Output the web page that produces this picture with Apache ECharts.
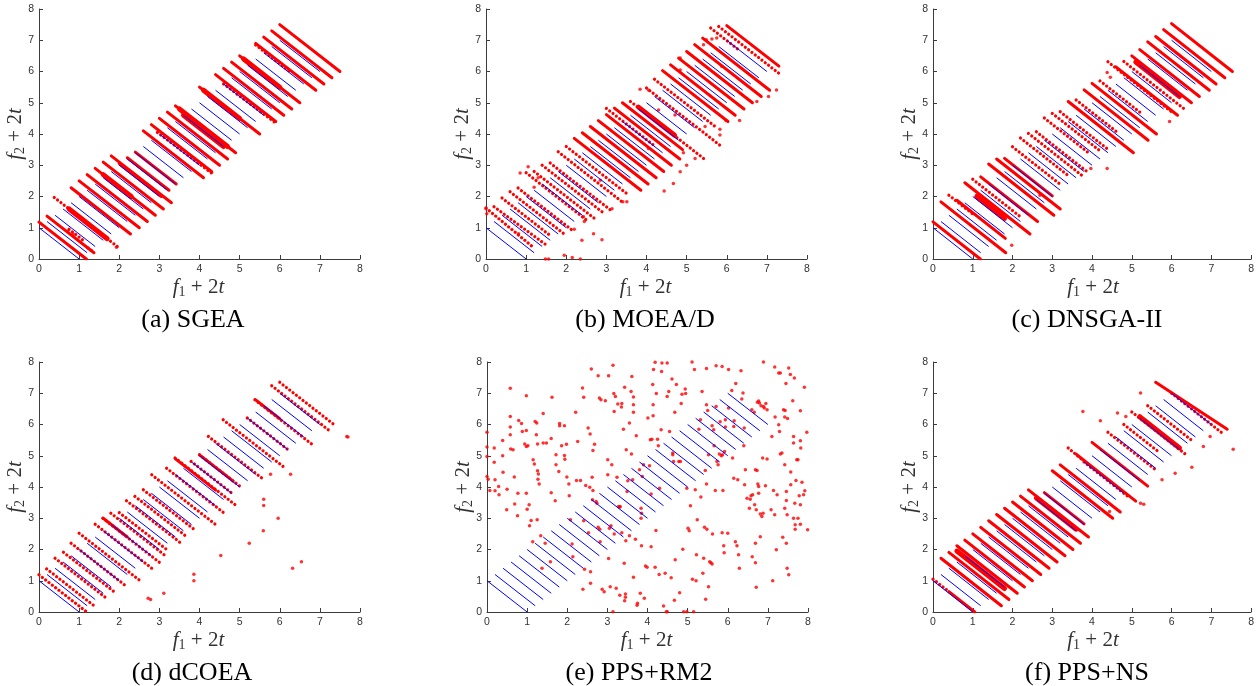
<!DOCTYPE html>
<html>
<head>
<meta charset="utf-8">
<script src="https://cdn.jsdelivr.net/npm/echarts@6/dist/echarts.min.js"></script>
<style>
html, body { margin: 0; padding: 0; background: #ffffff; }
#chart { width: 1257px; height: 686px; }
</style>
</head>
<body>
<div id="chart"></div>
<script>
// True Pareto fronts: for each t = 0, 0.1, ..., 3 the front runs from (2t, 2t+1) to (2t+1, 2t).
const frontStarts = [0, 0.2, 0.4, 0.6, 0.8, 1.0, 1.2, 1.4, 1.6, 1.8, 2.0, 2.2, 2.4, 2.6, 2.8, 3.0,
  3.2, 3.4, 3.6, 3.8, 4.0, 4.2, 4.4, 4.6, 4.8, 5.0, 5.2, 5.4, 5.6, 5.8, 6.0];
const tickValues = [0, 1, 2, 3, 4, 5, 6, 7, 8];
const captions = ['(a) SGEA', '(b) MOEA/D', '(c) DNSGA-II', '(d) dCOEA', '(e) PPS+RM2', '(f) PPS+NS'];

// Obtained solutions. Segments are [x1, y1, x2, y2]; points are [x, y].
// (a) SGEA
const sgeaLines = [
  [0, 1.18, 1.18, 0], [0.2, 1.37, 1.37, 0.2], [0.8, 2.28, 2.28, 0.8], [1.0, 2.5, 2.5, 1.0],
  [1.2, 2.7, 2.7, 1.2], [1.4, 2.9, 2.9, 1.4], [1.6, 3.1, 3.1, 1.6], [1.8, 3.3, 3.3, 1.8],
  [2.0, 3.05, 3.05, 2.0], [2.2, 3.24, 3.24, 2.2], [2.4, 3.42, 3.42, 2.4], [2.6, 4.1, 4.1, 2.6],
  [2.8, 4.3, 4.3, 2.8], [3.0, 4.5, 4.5, 3.0], [3.2, 4.7, 4.7, 3.2], [3.4, 4.9, 4.9, 3.4],
  [4.0, 5.5, 5.5, 4.0], [4.4, 5.9, 5.9, 4.4], [4.6, 6.1, 6.1, 4.6], [4.8, 6.3, 6.3, 4.8],
  [5.0, 6.5, 6.5, 5.0], [5.4, 6.9, 6.9, 5.4], [5.6, 7.1, 7.1, 5.6], [5.8, 7.3, 7.3, 5.8],
  [6.0, 7.5, 7.5, 6.0]
];
const sgeaDense = [
  [0.75, 1.6, 1.7, 0.65], [1.6, 2.7, 2.3, 2.0], [3.6, 4.6, 4.6, 3.6], [3.5, 4.8, 4.7, 3.6],
  [4.1, 5.4, 5.0, 4.5], [5.1, 6.4, 6.0, 5.5]
];
const sgeaSparse = [
  [0.38, 1.97, 0.75, 1.6], [1.7, 0.65, 1.95, 0.4], [0.75, 0.95, 1.1, 0.6], [2.95, 4.05, 4.3, 2.75],
  [4.6, 5.6, 5.9, 4.35], [5.4, 6.85, 6.3, 5.95]
];
const sgeaPoints = [[1.22, 0.35], [1.3, 0.27], [1.93, 0.38], [4.23, 2.84], [4.3, 2.78], [0.72, 0.9], [0.85, 0.8]];

// (b) MOEA/D
const moeadLines = [
  [2.2, 3.86, 3.86, 2.2], [2.4, 4.04, 4.04, 2.4], [2.6, 4.24, 4.24, 2.6],
  [2.8, 4.43, 4.43, 2.8], [3.0, 4.62, 4.62, 3.0], [3.2, 4.83, 4.83, 3.2], [3.4, 5.0, 4.9, 3.5],
  [4.4, 6.03, 6.03, 4.4], [4.6, 6.21, 6.21, 4.6], [4.8, 6.43, 6.43, 4.8], [5.0, 6.64, 6.64, 5.0],
  [5.2, 6.86, 6.86, 5.2], [5.4, 7.07, 7.07, 5.4], [6.0, 7.47, 7.3, 6.17]
];
const moeadDense = [[3.8, 4.86, 4.7, 3.96]];
const moeadSparse = [
  [0, 1.63, 1.2, 0.35], [0.2, 1.67, 1.5, 0.45], [0.4, 1.95, 1.6, 0.75], [0.6, 2.15, 2.0, 0.75],
  [0.8, 2.27, 2.2, 0.87], [1.0, 2.76, 2.5, 1.25], [1.2, 2.8, 2.7, 1.3], [1.4, 3.0, 2.9, 1.5],
  [1.6, 3.07, 3.1, 1.57], [1.8, 3.43, 3.39, 1.83], [2.0, 3.6, 3.5, 2.1], [3.0, 4.82, 4.2, 3.62],
  [3.6, 5.04, 5.5, 3.14], [4.0, 5.47, 5.9, 3.57], [4.2, 5.75, 5.75, 4.2], [5.6, 7.39, 6.3, 6.69],
  [5.8, 7.44, 7.3, 5.94]
];
const moeadPoints = [
  [0, 1.61], [0.02, 1.45], [2.39, 0.6], [2.89, 0.62], [2.35, 0], [1.48, 0], [1.56, 0], [3.14, 1.61],
  [3.41, 1.83], [3.51, 1.83], [4.44, 2.18], [4.67, 2.42], [4.84, 2.79], [5.0, 3.0], [5.21, 3.22],
  [4.92, 3.4], [5.46, 4.24], [5.83, 4.15], [5.83, 3.97], [5.98, 4.43], [6.32, 4.43], [6.75, 5.04],
  [7.04, 5.2], [7.24, 5.41], [4.84, 6.05], [4.84, 6.43], [5.49, 7.02], [5.42, 6.86], [5.63, 7.04],
  [5.75, 7.07], [5.88, 6.16], [3.84, 5.43], [4.05, 5.41], [4.3, 4.77], [4.71, 4.61], [4.05, 3.54],
  [2.85, 2.52], [2.43, 1.35], [2.68, 0.81], [0.81, 0.81], [1.2, 2.3], [1.3, 2.6], [0.85, 2.75],
  [1.05, 2.95], [2.2, 0.95], [2.45, 1.2], [1.95, 0.12], [2.15, 0.05]
];

// (c) DNSGA-II
const dnsgaLines = [
  [0, 1.19, 1.19, 0], [0.2, 1.83, 1.83, 0.2], [0.6, 1.88, 1.82, 0.66], [0.8, 2.44, 2.44, 0.8],
  [1.2, 2.63, 2.63, 1.2], [1.4, 3.04, 3.04, 1.4], [1.6, 3.2, 3.2, 1.6], [1.8, 3.22, 3.0, 2.02],
  [3.4, 5.04, 5.04, 3.4], [3.8, 5.41, 5.41, 3.8], [4.0, 5.62, 5.62, 4.0], [4.6, 6.15, 6.15, 4.6],
  [5.0, 6.5, 6.5, 5.0], [5.2, 6.7, 6.7, 5.2], [5.4, 6.95, 6.95, 5.4], [5.6, 7.12, 7.12, 5.6],
  [5.8, 7.34, 7.34, 5.8], [6.0, 7.53, 7.53, 6.0]
];
const dnsgaDense = [[1.1, 2.0, 1.8, 1.3], [5.1, 6.3, 6.2, 5.2]];
const dnsgaSparse = [
  [0.4, 2.04, 1.0, 1.44], [1.0, 2.55, 2.2, 1.35], [2.0, 3.59, 3.2, 2.39], [2.2, 3.87, 3.4, 2.67],
  [2.4, 4.02, 3.8, 2.62], [2.6, 4.07, 3.9, 2.77], [2.8, 4.51, 3.9, 3.41], [3.0, 4.66, 4.2, 3.46],
  [3.2, 4.71, 4.4, 3.51], [3.6, 5.09, 4.6, 4.09], [4.4, 6.31, 6.0, 4.71], [4.2, 5.7, 5.2, 4.7],
  [4.8, 6.32, 6.32, 4.8]
];
const dnsgaPoints = [
  [1.98, 0.44], [3.97, 2.9], [4.38, 2.9], [2.69, 2.04], [4.38, 5.97], [4.46, 5.82], [5.95, 4.4]
];

// (d) dCOEA
const dcoeaLines = [[4.0, 5.03, 4.84, 4.19], [5.4, 6.79, 6.0, 6.19], [1.6, 3.0, 2.2, 2.4], [3.4, 4.9, 4.4, 3.9]];
const dcoeaSparse = [
  [0, 1.19, 1.19, 0], [0.19, 1.38, 1.38, 0.19], [0.4, 1.72, 1.72, 0.4], [0.61, 1.91, 1.91, 0.61],
  [0.8, 2.2, 2.2, 0.8], [1.0, 2.52, 2.52, 1.0], [1.4, 2.81, 2.81, 1.4], [1.59, 3.0, 3.0, 1.59],
  [1.79, 3.16, 3.16, 1.79], [2.0, 3.18, 3.18, 2.0], [2.18, 3.56, 3.56, 2.18], [2.39, 3.7, 3.7, 2.39],
  [2.6, 3.91, 3.91, 2.6], [2.81, 4.39, 4.39, 2.81], [3.18, 4.6, 4.6, 3.18], [3.39, 4.93, 4.93, 3.39],
  [3.79, 4.82, 4.82, 3.79], [4.0, 5.03, 5.03, 4.0], [4.22, 5.62, 5.62, 4.22], [4.59, 6.15, 6.15, 4.59],
  [5.19, 6.21, 6.21, 5.19], [5.38, 6.79, 6.79, 5.38], [5.8, 7.24, 7.24, 5.8], [6.0, 7.35, 7.35, 6.0]
];
const dcoeaPoints = [
  [2.72, 0.44], [2.78, 0.4], [3.11, 0.6], [3.86, 1.21], [3.86, 1.0], [4.53, 1.81], [5.24, 2.2],
  [5.59, 2.6], [5.96, 3.0], [5.6, 3.61], [5.6, 3.41], [6.32, 1.4], [6.54, 1.61], [7.67, 5.62],
  [7.7, 5.6], [5.77, 4.41], [6.27, 4.41]
];

// (e) PPS+RM2
const rmPoints = [
  [0, 5.75], [0, 5.28], [0, 4.98], [0, 4.34], [0.03, 4.25], [0.07, 3.89], [0.18, 5.25], [0.18, 4.79],
  [0.2, 4.23], [0.2, 3.88], [0.29, 4.02], [0.3, 3.75], [0.39, 5.49], [0.39, 5.0], [0.4, 4.47], [0.49, 3.27],
  [0.5, 3.93], [0.58, 7.16], [0.58, 6.26], [0.58, 5.92], [0.58, 5.67], [0.59, 5.22], [0.65, 5.19], [0.68, 4.32],
  [0.69, 3.46], [0.76, 3.08], [0.77, 3.8], [0.79, 6.13], [0.86, 6.03], [0.88, 5.78], [0.94, 5.38], [0.98, 6.92],
  [0.98, 5.81], [0.98, 5.3], [0.98, 3.8], [1.0, 3.29], [1.02, 5.32], [1.05, 3.43], [1.06, 2.76], [1.1, 2.93],
  [1.14, 2.25], [1.15, 4.87], [1.18, 4.74], [1.2, 6.1], [1.24, 6.05], [1.23, 5.67], [1.26, 5.38], [1.26, 4.52],
  [1.27, 4.25], [1.28, 4.42], [1.25, 2.95], [1.3, 4.1], [1.34, 2.44], [1.37, 1.4], [1.4, 6.35], [1.4, 5.41],
  [1.45, 2.2], [1.48, 5.41], [1.58, 1.61], [1.6, 5.55], [1.6, 3.82], [1.62, 6.87], [1.7, 3.56], [1.72, 5.03],
  [1.72, 4.71], [1.79, 4.5], [1.81, 6.03], [1.81, 5.96], [1.86, 5.32], [1.93, 5.96], [1.93, 5.01], [1.94, 4.89],
  [1.98, 5.37], [1.99, 4.32], [2.04, 4.1], [2.05, 3.72], [2.08, 2.95], [2.12, 2.18], [2.14, 1.77], [2.21, 6.39],
  [2.23, 4.21], [2.26, 5.46], [2.33, 4.21], [2.38, 7.17], [2.41, 6.87], [2.39, 0.73], [2.41, 2.92], [2.43, 1.37],
  [2.46, 4.05], [2.52, 5.89], [2.53, 2.54], [2.56, 3.99], [2.57, 5.7], [2.58, 1.29], [2.58, 0.92], [2.6, 7.78],
  [2.62, 4.31], [2.63, 3.59], [2.64, 5.17], [2.64, 3.89], [2.68, 5.37], [2.72, 3.54], [2.74, 3.48], [2.77, 7.56],
  [2.77, 2.71], [2.8, 6.85], [2.81, 2.65], [2.82, 2.25], [2.84, 6.79], [2.87, 0.73], [2.92, 0.65], [2.95, 6.76],
  [3.01, 4.87], [3.01, 4.39], [3.03, 7.56], [3.03, 1.71], [3.05, 2.68], [3.07, 0.81], [3.09, 2.76], [3.11, 4.71],
  [3.14, 7.9], [3.14, 0.01], [3.16, 6.99], [3.17, 6.42], [3.17, 2.5], [3.2, 6.9], [3.22, 0.76], [3.24, 4.31],
  [3.26, 6.66], [3.28, 3.38], [3.3, 3.35], [3.31, 0.54], [3.32, 3.38], [3.35, 6.56], [3.36, 6.67], [3.36, 2.54],
  [3.4, 5.85], [3.42, 1.56], [3.43, 7.19], [3.43, 0.36], [3.45, 0.58], [3.45, 0.47], [3.46, 2.28], [3.47, 5.19],
  [3.49, 3.86], [3.51, 4.2], [3.55, 2.44], [3.55, 6.05], [3.59, 7.06], [3.6, 5.06], [3.61, 7.54], [3.63, 4.23],
  [3.65, 6.88], [3.65, 6.63], [3.65, 6.39], [3.65, 1.11], [3.7, 2.33], [3.72, 5.64], [3.74, 0.22], [3.75, 0.28],
  [3.8, 4.55], [3.82, 0.6], [3.84, 3.32], [3.84, 3.0], [3.85, 3.16], [3.85, 2.12], [3.87, 4.34], [3.9, 4.71],
  [3.92, 0.44], [3.95, 1.47], [3.99, 1.43], [4.01, 6.21], [4.05, 4.68], [4.07, 5.51], [4.09, 3.78], [4.09, 2.09],
  [4.11, 5.53], [4.13, 7.28], [4.14, 6.63], [4.14, 6.28], [4.15, 7.76], [4.19, 7.99], [4.19, 1.43], [4.21, 2.61],
  [4.22, 6.99], [4.25, 5.53], [4.27, 5.32], [4.29, 1.2], [4.3, 3.96], [4.34, 5.83], [4.35, 7.7], [4.36, 7.97],
  [4.4, 0.19], [4.44, 1.24], [4.47, 0.01], [4.49, 7.97], [4.49, 6.9], [4.49, 0.01], [4.53, 7.06], [4.55, 5.78],
  [4.59, 1.1], [4.61, 7.46], [4.63, 5.09], [4.63, 5.03], [4.65, 4.82], [4.67, 0.38], [4.68, 6.39], [4.69, 1.67],
  [4.72, 7.28], [4.78, 4.82], [4.8, 0.62], [4.82, 4.82], [4.84, 6.67], [4.86, 6.97], [4.88, 2.01], [4.9, 0.01],
  [4.94, 7.14], [4.95, 6.99], [4.98, 0.01], [4.98, 3.96], [5.01, 2.68], [5.04, 2.6], [5.07, 3.4], [5.11, 8.0],
  [5.12, 1.05], [5.15, 0.01], [5.17, 7.76], [5.19, 3.91], [5.21, 1.0], [5.22, 1.83], [5.24, 2.95], [5.28, 5.85],
  [5.32, 6.15], [5.33, 3.68], [5.36, 7.06], [5.38, 1.24], [5.4, 1.72], [5.42, 2.71], [5.44, 4.53], [5.45, 0.41],
  [5.47, 4.1], [5.47, 7.79], [5.47, 6.63], [5.48, 2.65], [5.5, 6.45], [5.52, 5.03], [5.52, 0.81], [5.55, 1.61],
  [5.58, 1.58], [5.61, 5.96], [5.61, 1.54], [5.62, 2.5], [5.65, 5.83], [5.66, 5.32], [5.69, 3.89], [5.71, 7.88],
  [5.71, 6.58], [5.73, 4.82], [5.76, 4.71], [5.79, 5.06], [5.81, 6.09], [5.84, 5.0], [5.86, 7.86], [5.86, 2.54],
  [5.87, 5.03], [5.88, 3.89], [5.9, 2.12], [5.91, 1.9], [5.92, 5.14], [5.94, 5.92], [5.94, 6.15], [6.0, 2.52],
  [6.02, 7.76], [6.02, 6.53], [6.1, 7.09], [6.12, 4.93], [6.15, 4.28], [6.15, 5.94], [6.16, 6.12], [6.19, 2.25],
  [6.2, 7.31], [6.23, 2.12], [6.25, 4.23], [6.27, 1.83], [6.29, 1.4], [6.33, 7.72], [6.35, 6.82], [6.38, 7.01],
  [6.4, 5.32], [6.41, 5.89], [6.42, 4.07], [6.44, 4.55], [6.48, 3.64], [6.54, 3.32], [6.56, 3.61], [6.58, 3.72],
  [6.6, 6.47], [6.61, 1.77], [6.62, 3.75], [6.66, 6.39], [6.67, 3.43], [6.69, 2.2], [6.69, 4.55], [6.69, 1.58],
  [6.71, 0.79], [6.71, 3.27], [6.73, 4.53], [6.74, 6.71], [6.75, 4.1], [6.77, 6.75], [6.77, 3.8], [6.77, 4.02],
  [6.79, 6.69], [6.81, 3.14], [6.81, 2.41], [6.83, 6.6], [6.85, 3.06], [6.87, 4.93], [6.88, 3.16], [6.89, 6.58],
  [6.89, 8.0], [6.91, 6.53], [6.94, 4.04], [6.95, 6.67], [6.98, 4.9], [6.98, 6.47], [7.08, 3.27], [7.1, 5.62],
  [7.12, 1.0], [7.14, 3.89], [7.17, 7.84], [7.17, 3.11], [7.18, 6.24], [7.21, 1.99], [7.23, 3.75], [7.27, 7.65],
  [7.27, 5.99], [7.29, 5.78], [7.31, 7.65], [7.31, 5.06], [7.35, 5.09], [7.37, 2.39], [7.39, 6.47], [7.42, 6.24],
  [7.42, 3.32], [7.42, 4.71], [7.43, 6.45], [7.45, 7.31], [7.46, 2.2], [7.46, 3.86], [7.46, 3.57], [7.48, 3.11],
  [7.48, 1.4], [7.49, 6.19], [7.52, 7.81], [7.52, 1.19], [7.56, 7.6], [7.57, 4.48], [7.57, 4.07], [7.62, 6.76],
  [7.64, 5.62], [7.64, 5.41], [7.64, 3.0], [7.66, 7.49], [7.67, 3.48], [7.68, 2.65], [7.68, 2.79], [7.7, 4.21],
  [7.72, 4.87], [7.75, 4.87], [7.75, 3.0], [7.78, 3.72], [7.81, 5.48], [7.81, 2.81], [7.81, 3.43], [7.81, 6.44],
  [7.82, 5.25], [7.85, 4.15], [7.89, 3.75], [7.91, 7.19], [7.92, 3.88], [7.97, 5.75], [7.99, 2.63]
];

// (f) PPS+NS
const ppsnsLines = [
  [0.4, 0.65, 1.05, 0], [0.2, 1.72, 1.72, 0.2], [0.4, 1.91, 1.91, 0.4], [0.6, 2.12, 2.12, 0.6],
  [0.8, 2.3, 2.3, 0.8], [1.0, 2.5, 2.5, 1.0], [1.2, 2.71, 2.71, 1.2], [1.4, 2.92, 2.92, 1.4],
  [1.6, 3.12, 3.12, 1.6], [1.8, 3.32, 3.32, 1.8], [2.0, 3.52, 3.52, 2.0], [2.2, 3.71, 3.71, 2.2],
  [2.4, 3.91, 3.91, 2.4], [2.8, 3.82, 3.8, 2.82], [3.0, 4.52, 4.52, 3.0], [3.2, 4.71, 4.71, 3.2],
  [3.6, 5.05, 5.1, 3.55], [4.0, 5.43, 5.4, 4.03], [5.6, 7.35, 7.4, 5.85]
];
const ppsnsDense = [[0.6, 1.95, 1.8, 0.75], [2.6, 3.65, 3.6, 2.65], [5.2, 6.25, 6.2, 5.25]];
const ppsnsSparse = [
  [0, 1.05, 0.4, 0.65], [3.4, 5.25, 4.0, 4.6], [3.8, 4.8, 4.9, 3.7], [4.4, 5.75, 5.6, 4.55],
  [4.8, 6.0, 5.7, 5.1], [5.0, 6.4, 6.4, 5.0], [5.4, 6.6, 6.5, 5.5], [6.0, 7.0, 7.3, 5.7]
];
const ppsnsPoints = [
  [3.77, 6.42], [5.22, 7.01], [4.21, 6.12], [4.64, 6.37], [4.85, 6.26], [7.55, 5.21], [6.97, 5.62],
  [6.51, 4.63], [5.76, 4.23], [6.09, 4.44], [6.8, 5.3], [4.44, 3.22], [5.22, 3.48], [5.3, 3.45]
];

const panels = [
  { lines: sgeaLines, dense: sgeaDense, sparse: sgeaSparse, points: sgeaPoints },
  { lines: moeadLines, dense: moeadDense, sparse: moeadSparse, points: moeadPoints },
  { lines: dnsgaLines, dense: dnsgaDense, sparse: dnsgaSparse, points: dnsgaPoints },
  { lines: dcoeaLines, dense: [], sparse: dcoeaSparse, points: dcoeaPoints },
  { lines: [], dense: [], sparse: [], points: rmPoints },
  { lines: ppsnsLines, dense: ppsnsDense, sparse: ppsnsSparse, points: ppsnsPoints }
];

// Plot boxes (pixels) for the 2 x 3 layout
const boxes = [
  { left: 39, top: 9, width: 321, height: 250 },
  { left: 486, top: 9, width: 321, height: 250 },
  { left: 933, top: 9, width: 322, height: 250 },
  { left: 39, top: 362, width: 321, height: 250 },
  { left: 487, top: 362, width: 321, height: 250 },
  { left: 933, top: 362, width: 322, height: 250 }
];
const captionCenters = [193, 645, 1087, 192, 639, 1087];

const RED = '#ff0000';
const BLUE = '#0000ff';
const AXIS = '#3c3c3c';

const toCoords = segs => segs.map(s => ({ coords: [[s[0], s[1]], [s[2], s[3]]] }));

const grid = [], xAxis = [], yAxis = [], series = [], graphic = [];

const axisCommon = {
  type: 'value', min: 0, max: 8, interval: 1,
  axisLine: { show: true, onZero: false, lineStyle: { color: AXIS, width: 1 } },
  axisTick: { show: true, inside: true, length: 4, lineStyle: { color: AXIS, width: 1 } },
  splitLine: { show: false },
  axisLabel: {
    color: '#333333', fontSize: 10.5, fontFamily: 'Liberation Sans, Arial, sans-serif', margin: 5,
    formatter: v => (tickValues.indexOf(v) >= 0 ? String(v) : '')
  }
};

const serif = 'Liberation Serif, Times New Roman, serif';
const nameRich = sub => ({
  text: '{i|f}{s|' + sub + '}{n| + 2}{i|t}',
  rich: {
    i: { fontFamily: serif, fontStyle: 'italic', fontSize: 21, lineHeight: 24, fill: '#333333', color: '#333333' },
    s: { fontFamily: serif, fontSize: 14, lineHeight: 14, verticalAlign: 'bottom', fill: '#333333', color: '#333333' },
    n: { fontFamily: serif, fontSize: 21, lineHeight: 24, fill: '#333333', color: '#333333' }
  }
});

const lineSeries = (i, data, style, z) => ({
  type: 'lines', coordinateSystem: 'cartesian2d', xAxisIndex: i, yAxisIndex: i, silent: true, z: z,
  lineStyle: style, data: data
});

panels.forEach((p, i) => {
  const b = boxes[i];
  grid.push({ left: b.left, top: b.top, width: b.width, height: b.height, containLabel: false });
  xAxis.push(Object.assign({ gridIndex: i }, axisCommon));
  yAxis.push(Object.assign({ gridIndex: i }, axisCommon));

  if (p.lines.length) {
    series.push(lineSeries(i, toCoords(p.lines), { color: RED, width: 3, opacity: 1, cap: 'round' }, 2));
  }
  if (p.dense.length) {
    series.push(lineSeries(i, toCoords(p.dense), { color: RED, width: 5, opacity: 1, cap: 'round' }, 2));
  }
  if (p.sparse.length) {
    series.push(lineSeries(i, toCoords(p.sparse),
      { color: RED, width: 3.2, opacity: 1, cap: 'round', type: [0.01, 4.2] }, 2));
  }
  series.push({
    type: 'scatter', xAxisIndex: i, yAxisIndex: i, silent: true, z: 2,
    symbol: 'circle', symbolSize: 3.5,
    itemStyle: { color: RED },
    data: p.points
  });
  // true fronts
  series.push(lineSeries(i, frontStarts.map(s => ({ coords: [[s, s + 1], [s + 1, s]] })),
    { color: BLUE, width: 1, opacity: 1 }, 3));

  const rowTop = b.top;
  // x axis name
  graphic.push({
    type: 'text', x: b.left + b.width / 2 - 1, y: rowTop + 278, silent: true,
    style: Object.assign(nameRich('1'), { align: 'center', verticalAlign: 'middle' })
  });
  // y axis name
  graphic.push({
    type: 'text', x: b.left - 24, y: rowTop + 125, rotation: Math.PI / 2, silent: true,
    style: Object.assign(nameRich('2'), { align: 'center', verticalAlign: 'middle' })
  });
  // caption
  graphic.push({
    type: 'text', x: captionCenters[i], y: rowTop + 311, silent: true,
    style: { text: captions[i], fontFamily: serif, fontSize: 26, fill: '#000000', align: 'center', verticalAlign: 'middle' }
  });
});

const chart = echarts.init(document.getElementById('chart'), null, { renderer: 'canvas' });
chart.setOption({
  animation: false,
  backgroundColor: '#ffffff',
  grid, xAxis, yAxis, series, graphic
});
</script>
</body>
</html>
